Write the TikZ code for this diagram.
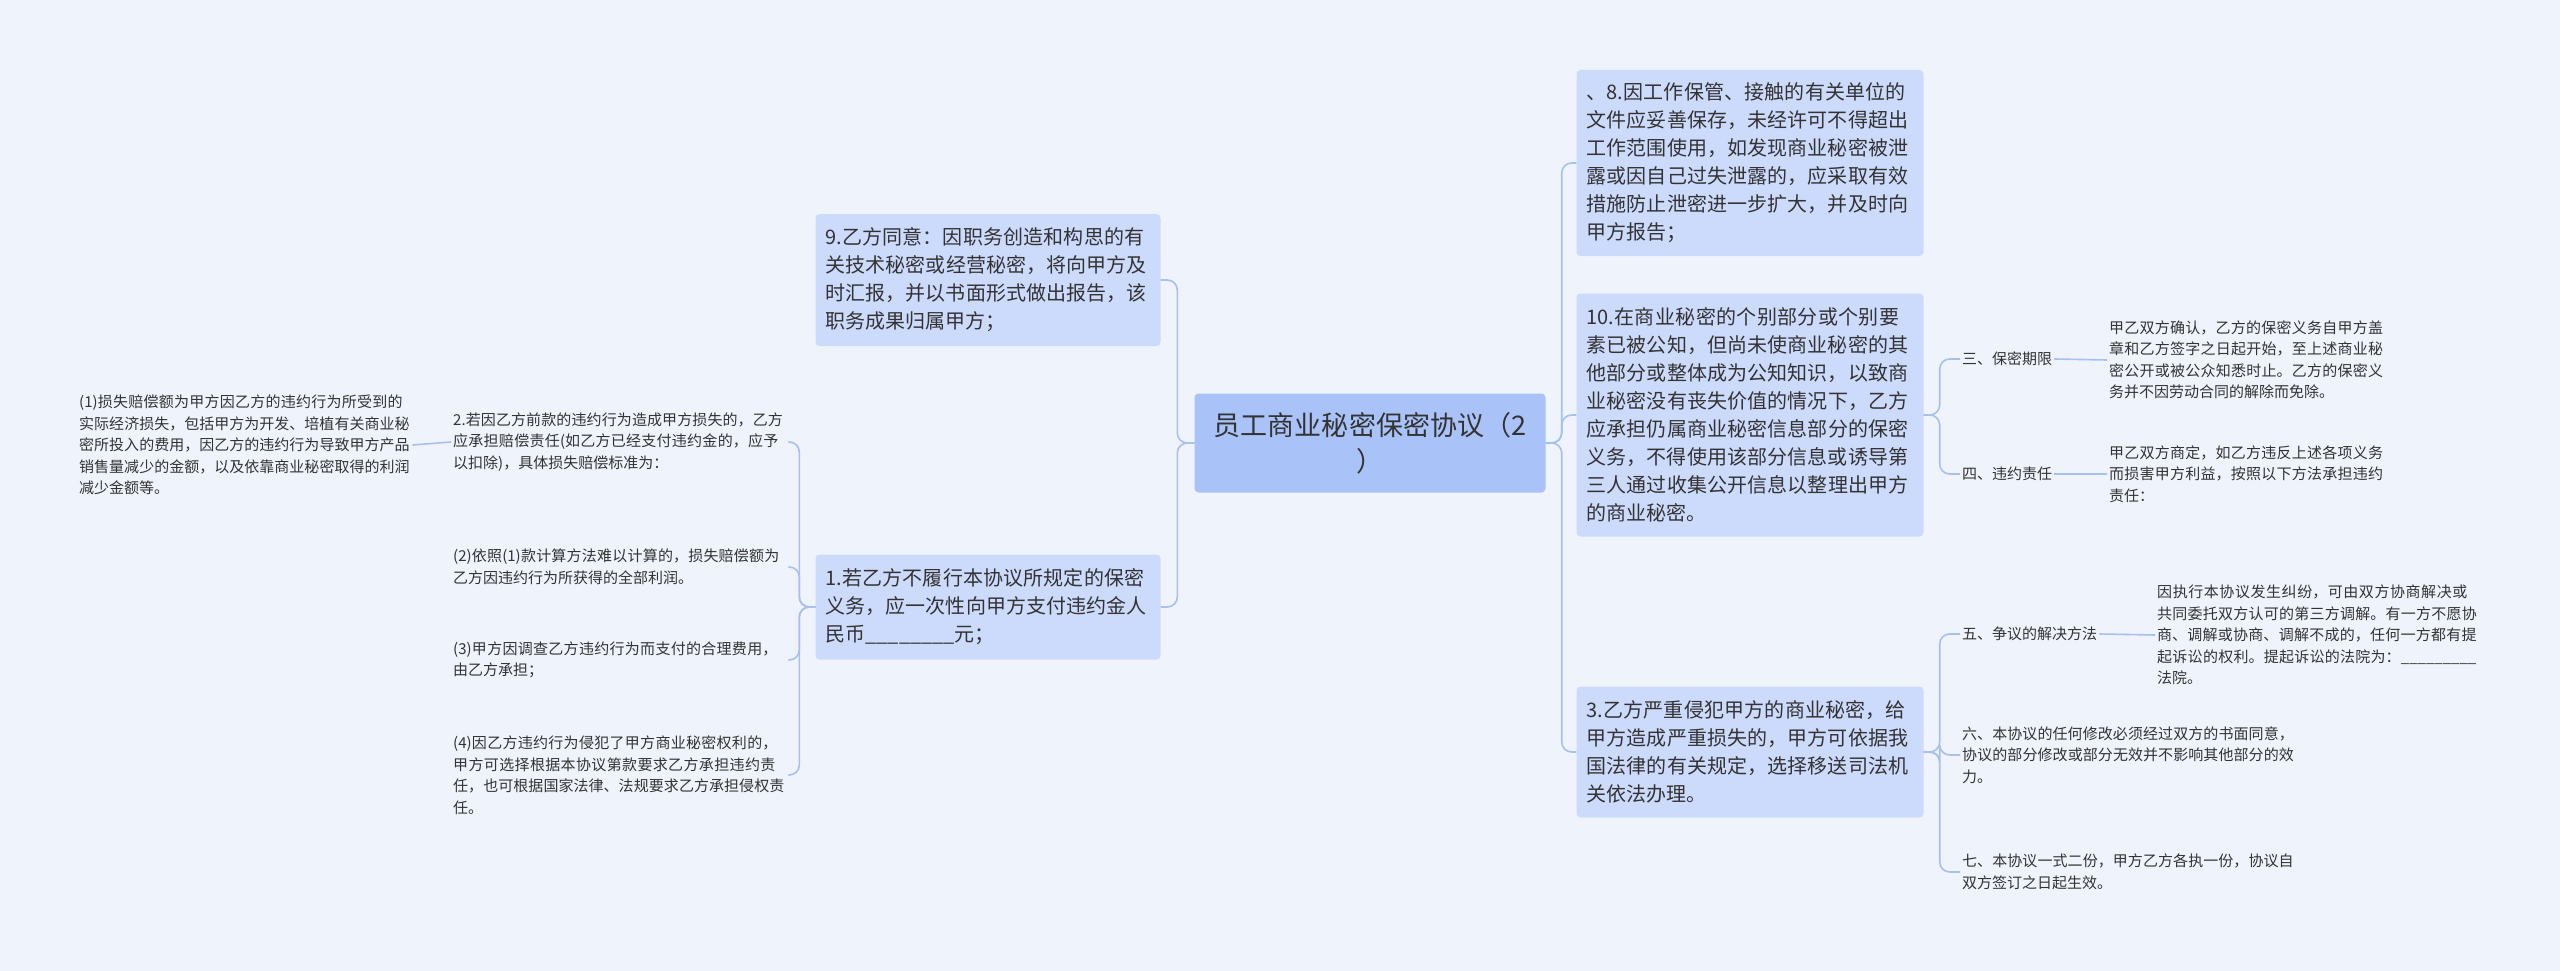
\documentclass[tikz,border=0pt]{standalone}
\usepackage{fontspec}
\setmainfont{Noto Sans CJK SC}
\XeTeXlinebreaklocale "zh"
\XeTeXlinebreakskip=0pt plus 1pt
\definecolor{bg}{HTML}{EEF3FC}
\definecolor{boxc}{HTML}{CCDAFB}
\definecolor{rootc}{HTML}{A9C2F7}
\definecolor{linec}{HTML}{A9BFEC}
\definecolor{txt}{HTML}{333333}
\begin{document}
\begin{tikzpicture}[x=1pt,y=-1pt,
  box/.style={fill=boxc,rounded corners=4pt,inner sep=10pt,align=left,font=\fontsize{20}{28}\selectfont,text=txt},
  rootbox/.style={fill=rootc,rounded corners=4pt,inner sep=10pt,align=center,font=\fontsize{27}{36}\selectfont,text=txt},
  small/.style={inner sep=2pt,align=left,font=\fontsize{15}{21.5}\selectfont,text=txt,anchor=west},
  conn/.style={draw=linec,line width=1.6pt,rounded corners=10pt}]
\fill[bg] (0,0) rectangle (2560,971);
\useasboundingbox (0,0) rectangle (2560,971);
\node[rootbox,minimum width=351,minimum height=99,text width=320] (root) at (1370,443) {员工商业秘密保密协议（2\\）};
\node[box,minimum width=345,minimum height=132,text width=325] (n9) at (988,280) {9.乙方同意：因职务创造和构思的有关技术秘密或经营秘密，将向甲方及时汇报，并以书面形式做出报告，该职务成果归属甲方；};
\node[box,minimum width=345,minimum height=105,text width=325] (n1) at (988,607) {1.若乙方不履行本协议所规定的保密义务，应一次性向甲方支付违约金人民币\_\_\_\_\_\_\_\_元；};
\node[box,minimum width=347,minimum height=186,text width=327] (n8) at (1750,163) {、8.因工作保管、接触的有关单位的文件应妥善保存，未经许可不得超出工作范围使用，如发现商业秘密被泄露或因自己过失泄露的，应采取有效措施防止泄密进一步扩大，并及时向甲方报告；};
\node[box,minimum width=347,minimum height=243,text width=327] (n10) at (1750,415) {10.在商业秘密的个别部分或个别要素已被公知，但尚未使商业秘密的其他部分或整体成为公知知识，以致商业秘密没有丧失价值的情况下，乙方应承担仍属商业秘密信息部分的保密义务，不得使用该部分信息或诱导第三人通过收集公开信息以整理出甲方的商业秘密。};
\node[box,minimum width=347,minimum height=131,text width=327] (n3) at (1750,752) {3.乙方严重侵犯甲方的商业秘密，给甲方造成严重损失的，甲方可依据我国法律的有关规定，选择移送司法机关依法办理。};
\node[small,text width=333] (a2) at (451,442) {2.若因乙方前款的违约行为造成甲方损失的，乙方应承担赔偿责任(如乙方已经支付违约金的，应予以扣除)，具体损失赔偿标准为：};
\node[small,text width=331] (a1) at (77,445) {(1)损失赔偿额为甲方因乙方的违约行为所受到的实际经济损失，包括甲方为开发、培植有关商业秘密所投入的费用，因乙方的违约行为导致甲方产品销售量减少的金额，以及依靠商业秘密取得的利润减少金额等。};
\node[small,text width=333] (b2) at (451,567) {(2)依照(1)款计算方法难以计算的，损失赔偿额为乙方因违约行为所获得的全部利润。};
\node[small,text width=333] (b3) at (451,660) {(3)甲方因调查乙方违约行为而支付的合理费用，由乙方承担；};
\node[small,text width=333] (b4) at (451,775) {(4)因乙方违约行为侵犯了甲方商业秘密权利的，甲方可选择根据本协议第款要求乙方承担违约责任，也可根据国家法律、法规要求乙方承担侵权责任。};
\node[small] (s3) at (1960,359) {三、保密期限};
\node[small,text width=281] (s3c) at (2107,360) {甲乙双方确认，乙方的保密义务自甲方盖章和乙方签字之日起开始，至上述商业秘密公开或被公众知悉时止。乙方的保密义务并不因劳动合同的解除而免除。};
\node[small] (s4) at (1960,474) {四、违约责任};
\node[small,text width=281] (s4c) at (2107,474) {甲乙双方商定，如乙方违反上述各项义务而损害甲方利益，按照以下方法承担违约责任：};
\node[small] (s5) at (1960,634) {五、争议的解决方法};
\node[small,text width=327] (s5c) at (2155,635) {因执行本协议发生纠纷，可由双方协商解决或共同委托双方认可的第三方调解。有一方不愿协商、调解或协商、调解不成的，任何一方都有提起诉讼的权利。提起诉讼的法院为：\_\_\_\_\_\_\_\_\_法院。};
\node[small,text width=334] (s6) at (1960,755) {六、本协议的任何修改必须经过双方的书面同意，协议的部分修改或部分无效并不影响其他部分的效力。};
\node[small,text width=334] (s7) at (1960,872) {七、本协议一式二份，甲方乙方各执一份，协议自双方签订之日起生效。};
% connectors
\foreach \c in {n9,n1} \draw[conn] (root.west) -- ++(-17,0) |- (\c.east);
\foreach \c in {n8,n10,n3} \draw[conn] (root.east) -- ++(16,0) |- (\c.west);
\foreach \c in {a2,b2,b3,b4} \draw[conn] (n1.west) -- ++(-16,0) |- (\c.east);
\draw[conn] (a2.west) -- (a1.east);
\foreach \c in {s3,s4} \draw[conn] (n10.east) -- ++(16,0) |- (\c.west);
\foreach \c in {s5,s6,s7} \draw[conn] (n3.east) -- ++(16,0) |- (\c.west);
\draw[conn] (s3.east) -- (s3c.west);
\draw[conn] (s4.east) -- (s4c.west);
\draw[conn] (s5.east) -- (s5c.west);
\end{tikzpicture}
\end{document}
